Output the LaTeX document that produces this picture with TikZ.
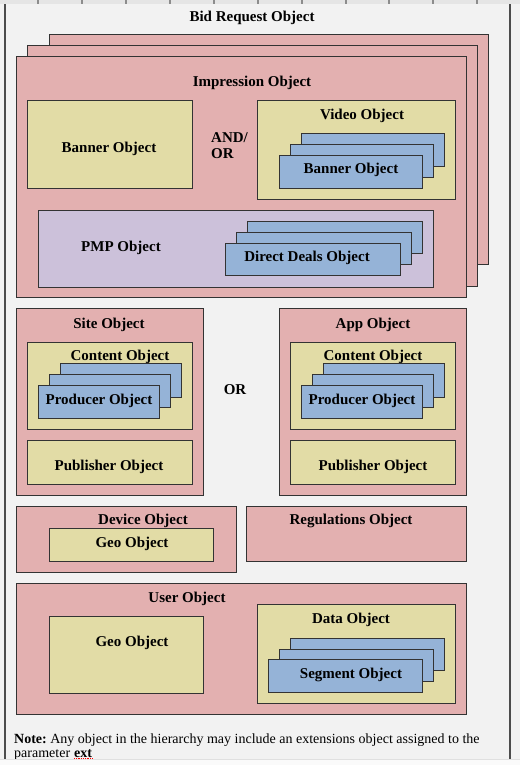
\documentclass[tikz,border=0pt]{standalone}
\usepackage{fontspec}
\setmainfont{Liberation Serif}
\usetikzlibrary{shadows}
\frenchspacing
\definecolor{bg}{HTML}{F2F2F2}
\definecolor{pinkf}{HTML}{E3B0B0}
\definecolor{yellowf}{HTML}{E2DCA6}
\definecolor{bluef}{HTML}{95B3D7}
\definecolor{purplef}{HTML}{CCC1DA}
\definecolor{edge}{HTML}{333333}
\newcommand\bx[6]{\node[#1, anchor=north west, minimum width={(#5-#3)*1pt}, minimum height={(#6-#4)*1pt}] (#2) at (#3,#4) {};}
\begin{document}
\begin{tikzpicture}[x=1pt,y=-1pt,
  base/.style={draw=edge, line width=0.9pt, inner sep=0pt, outer sep=0pt,
    drop shadow={shadow xshift=1.2pt, shadow yshift=-1.2pt, fill=black, opacity=0.3}},
  pinkbox/.style={base, fill=pinkf},
  yellowbox/.style={base, fill=yellowf},
  bluebox/.style={base, fill=bluef},
  purplebox/.style={base, fill=purplef},
  lbl/.style={inner sep=0pt, yshift=-2pt, font=\bfseries\fontsize{15}{18}\selectfont},
  note/.style={inner sep=0pt, anchor=base west, font=\fontsize{14}{17}\selectfont\frenchspacing}]
\fill[bg] (0,0) rectangle (520,765);
\useasboundingbox (0,0) rectangle (520,765);
% top ruler strip
\fill[black!10] (0,0) rectangle (520,4.5);
\foreach \t in {38,82,126,170,214,258,302,346,389,433,477}
  \fill[black!45] (\t-0.6,0) rectangle (\t+0.6,4.5);
% frame lines
\draw[black!70, line width=1.4pt] (5,4.5) -- (5,759);
\draw[black!70, line width=1.6pt] (510,4.5) -- (510,759);
\node[lbl] (bidreq) at (252,16) {Bid Request Object};
% impression stack
\bx{pinkbox}{impC}{49}{34}{488}{264}
\bx{pinkbox}{impB}{27}{45}{477}{286}
\bx{pinkbox}{impA}{16}{56}{466}{297}
\node[lbl] (impt) at (252,81) {Impression Object};
\bx{yellowbox}{ban}{27}{100}{192}{188}
\node[lbl] (bant) at (109,147) {Banner Object};
\node[lbl, anchor=north west, align=left, font=\bfseries\fontsize{15}{16}\selectfont] (andor) at (211,130) {AND/\\OR};
\bx{yellowbox}{vid}{257}{100}{455}{199}
\node[lbl] (vidt) at (362,114) {Video Object};
\bx{bluebox}{vbC}{301}{133}{444}{166}
\bx{bluebox}{vbB}{290}{144}{433}{177}
\bx{bluebox}{vbA}{279}{155}{422}{188}
\node[lbl] (vbt) at (351,168) {Banner Object};
\bx{purplebox}{pmp}{38}{210}{433}{287}
\node[lbl] (pmpt) at (121,246) {PMP Object};
\bx{bluebox}{ddC}{247}{221}{422}{253}
\bx{bluebox}{ddB}{236}{232}{411}{264}
\bx{bluebox}{ddA}{225}{243}{400}{275}
\node[lbl] (ddt) at (307,256) {Direct Deals Object};
% site
\bx{pinkbox}{site}{16}{308}{203}{495}
\node[lbl] (sitet) at (109,323) {Site Object};
\bx{yellowbox}{scon}{27}{342}{192}{429}
\node[lbl] (scont) at (120,355) {Content Object};
\bx{bluebox}{spC}{60}{363}{181}{397}
\bx{bluebox}{spB}{49}{374}{170}{407}
\bx{bluebox}{spA}{38}{385}{159}{418}
\node[lbl] (spt) at (99,399) {Producer Object};
\bx{yellowbox}{spub}{27}{440}{192}{484}
\node[lbl] (spubt) at (109,465) {Publisher Object};
\node[lbl] (ort) at (235,388) {OR};
% app
\bx{pinkbox}{app}{279}{308}{466}{495}
\node[lbl] (appt) at (373,323) {App Object};
\bx{yellowbox}{acon}{290}{342}{455}{429}
\node[lbl] (acont) at (373,355) {Content Object};
\bx{bluebox}{apC}{323}{363}{444}{397}
\bx{bluebox}{apB}{312}{374}{433}{407}
\bx{bluebox}{apA}{301}{385}{422}{418}
\node[lbl] (apt) at (362,399) {Producer Object};
\bx{yellowbox}{apub}{290}{440}{455}{484}
\node[lbl] (apubt) at (373,465) {Publisher Object};
% device
\bx{pinkbox}{dev}{16}{506}{236}{572}
\node[lbl] (devt) at (143,519) {Device Object};
\bx{yellowbox}{dgeo}{49}{528}{213}{561}
\node[lbl] (dgeot) at (132,542) {Geo Object};
\bx{pinkbox}{reg}{246}{506}{466}{561}
\node[lbl] (regt) at (351,519) {Regulations Object};
% user
\bx{pinkbox}{user}{16}{583}{466}{714}
\node[lbl] (usert) at (187,597) {User Object};
\bx{yellowbox}{ugeo}{49}{616}{203}{693}
\node[lbl] (ugeot) at (132,641) {Geo Object};
\bx{yellowbox}{data}{257}{604}{455}{703}
\node[lbl] (datat) at (351,618) {Data Object};
\bx{bluebox}{sgC}{290}{638}{444}{670}
\bx{bluebox}{sgB}{279}{649}{433}{681}
\bx{bluebox}{sgA}{268}{659}{422}{692}
\node[lbl] (sgt) at (351,673) {Segment Object};
% note
\node[note] (note1) at (14,743) {\textbf{Note:} Any object in the hierarchy may include an extensions object assigned to the};
\node[note] (note2) at (14,757) {parameter};
\node[note, font=\bfseries\fontsize{14}{17}\selectfont] (ext) at ([xshift=3.6pt]note2.base east) {ext};
% bottom strip
\fill[white!60!bg] (0,759.5) rectangle (520,765);
\draw[black!12, line width=0.5pt] (0,759.5) -- (520,759.5);
\draw[red, densely dotted, line width=0.8pt] ([yshift=-1.6pt]ext.base west) -- ([yshift=-1.6pt]ext.base east);
\end{tikzpicture}
\end{document}
